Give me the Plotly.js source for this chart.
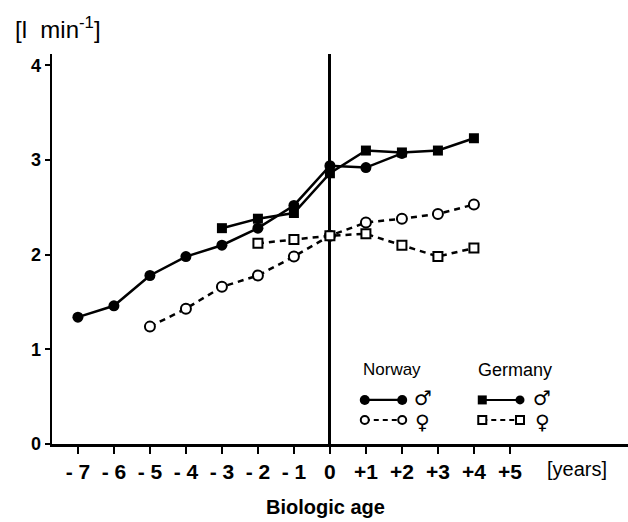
<!DOCTYPE html>
<html>
<head>
<meta charset="utf-8">
<script src="https://cdn.plot.ly/plotly-3.0.1.min.js"></script>
<style>html,body{margin:0;padding:0;background:#fff;}#chart{width:628px;height:522px;}</style>
</head>
<body>
<div id="chart"></div>
<script>
// ---- data ----
const ageTicks = [-7,-6,-5,-4,-3,-2,-1,0,1,2,3,4,5];
const ageTickLabels = ["- 7","- 6","- 5","- 4","- 3","- 2","- 1","0","+1","+2","+3","+4","+5"];
const yTicks = [0,1,2,3,4];

const norwayMaleAge = [-7,-6,-5,-4,-3,-2,-1,0,1,2];
const norwayMaleVal = [1.34,1.46,1.78,1.98,2.10,2.28,2.52,2.94,2.92,3.07];

const germanyMaleAge = [-3,-2,-1,0,1,2,3,4];
const germanyMaleVal = [2.28,2.38,2.44,2.86,3.10,3.08,3.10,3.23];

const norwayFemaleAge = [-5,-4,-3,-2,-1,0,1,2,3,4];
const norwayFemaleVal = [1.24,1.43,1.66,1.78,1.98,2.20,2.34,2.38,2.43,2.53];

const germanyFemaleAge = [-2,-1,0,1,2,3,4];
const germanyFemaleVal = [2.12,2.16,2.20,2.22,2.10,1.98,2.07];

const FONT = "Liberation Sans, Arial, sans-serif";
const NARROW = "Liberation Sans Narrow, Liberation Sans, Arial, sans-serif";
const dashPat = "6px,5px";

const traces = [
  {x: norwayFemaleAge, y: norwayFemaleVal, mode: "lines+markers", type: "scatter",
   line: {color: "black", width: 2.5, dash: dashPat},
   marker: {symbol: "circle", size: 10, color: "white", line: {color: "black", width: 2}}},
  {x: germanyFemaleAge, y: germanyFemaleVal, mode: "lines+markers", type: "scatter",
   line: {color: "black", width: 2.5, dash: dashPat},
   marker: {symbol: "square", size: 9, color: "white", line: {color: "black", width: 2}}},
  {x: norwayMaleAge, y: norwayMaleVal, mode: "lines+markers", type: "scatter",
   line: {color: "black", width: 2.5},
   marker: {symbol: "circle", size: 11, color: "black"}},
  {x: germanyMaleAge, y: germanyMaleVal, mode: "lines+markers", type: "scatter",
   line: {color: "black", width: 2.5},
   marker: {symbol: "square", size: 10, color: "black"}},
  // legend samples (overlay axes, fractions of the plot area)
  {x: [0.543, 0.608], y: [0.113, 0.113], xaxis: "x2", yaxis: "y2", mode: "lines+markers", type: "scatter",
   line: {color: "black", width: 2.2}, marker: {symbol: "circle", size: 10, color: "black"}},
  {x: [0.543, 0.608], y: [0.0615, 0.0615], xaxis: "x2", yaxis: "y2", mode: "lines+markers", type: "scatter",
   line: {color: "black", width: 2, dash: "5px,4px"}, marker: {symbol: "circle", size: 8, color: "white", line: {color: "black", width: 2}}},
  {x: [0.747, 0.8125], y: [0.113, 0.113], xaxis: "x2", yaxis: "y2", mode: "lines+markers", type: "scatter",
   line: {color: "black", width: 2}, marker: {symbol: ["square","circle"], size: 9, color: "black"}},
  {x: [0.747, 0.8125], y: [0.0615, 0.0615], xaxis: "x2", yaxis: "y2", mode: "lines+markers", type: "scatter",
   line: {color: "black", width: 2, dash: "5px,4px"}, marker: {symbol: "square", size: 8, color: "white", line: {color: "black", width: 2}}}
];

const layout = {
  width: 628, height: 522,
  margin: {l: 52, r: 0, t: 54, b: 78},
  paper_bgcolor: "white", plot_bgcolor: "white",
  showlegend: false,
  font: {family: FONT, color: "black", size: 16},
  xaxis: {
    range: [-7.72, 8.28], tickvals: ageTicks, ticktext: ageTickLabels,
    showgrid: false, zeroline: true, zerolinecolor: "black", zerolinewidth: 3,
    showline: true, linecolor: "black", linewidth: 2.5,
    ticks: "outside", ticklen: 7, tickwidth: 2, tickcolor: "black",
    tickfont: {family: NARROW, size: 21, weight: "bold"},
    fixedrange: true
  },
  yaxis: {
    range: [0, 4.12], tickvals: yTicks,
    showgrid: false, zeroline: false,
    showline: true, linecolor: "black", linewidth: 2.5,
    ticks: "outside", ticklen: 5, tickwidth: 2, tickcolor: "black",
    tickfont: {family: FONT, size: 18, weight: "bold"},
    fixedrange: true
  },
  xaxis2: {domain: [0,1], range: [0,1], overlaying: "x", anchor: "y2", visible: false, fixedrange: true},
  yaxis2: {domain: [0,1], range: [0,1], overlaying: "y", anchor: "x2", visible: false, fixedrange: true},
  annotations: [
    {text: "[l  min<sup>-1</sup>]", xref: "paper", yref: "paper", x: (13-52)/576, y: 1.0, yshift: 26,
     xanchor: "left", yanchor: "middle", showarrow: false, font: {family: FONT, size: 24}},
    {text: "[years]", xref: "paper", yref: "paper", x: (577-52)/576, y: 0, yshift: -25,
     xanchor: "center", yanchor: "middle", showarrow: false, font: {family: FONT, size: 20}},
    {text: "Biologic age", xref: "paper", yref: "paper", x: (325-52)/576, y: 0, yshift: -63,
     xanchor: "center", yanchor: "middle", showarrow: false, font: {family: FONT, size: 20, weight: "bold"}},
    {text: "Norway", xref: "x2", yref: "y2", x: 0.590, y: 0.19, showarrow: false,
     font: {family: FONT, size: 17}},
    {text: "Germany", xref: "x2", yref: "y2", x: 0.804, y: 0.19, showarrow: false,
     font: {family: FONT, size: 18}},
    {text: "♂", xref: "x2", yref: "y2", x: 0.644, y: 0.118, showarrow: false,
     font: {family: "DejaVu Sans", size: 20, weight: "bold"}},
    {text: "♀", xref: "x2", yref: "y2", x: 0.644, y: 0.056, showarrow: false,
     font: {family: "DejaVu Sans", size: 20, weight: "bold"}},
    {text: "♂", xref: "x2", yref: "y2", x: 0.851, y: 0.118, showarrow: false,
     font: {family: "DejaVu Sans", size: 20, weight: "bold"}},
    {text: "♀", xref: "x2", yref: "y2", x: 0.851, y: 0.056, showarrow: false,
     font: {family: "DejaVu Sans", size: 20, weight: "bold"}}
  ]
};

Plotly.newPlot("chart", traces, layout, {displayModeBar: false, staticPlot: true});
</script>
</body>
</html>
